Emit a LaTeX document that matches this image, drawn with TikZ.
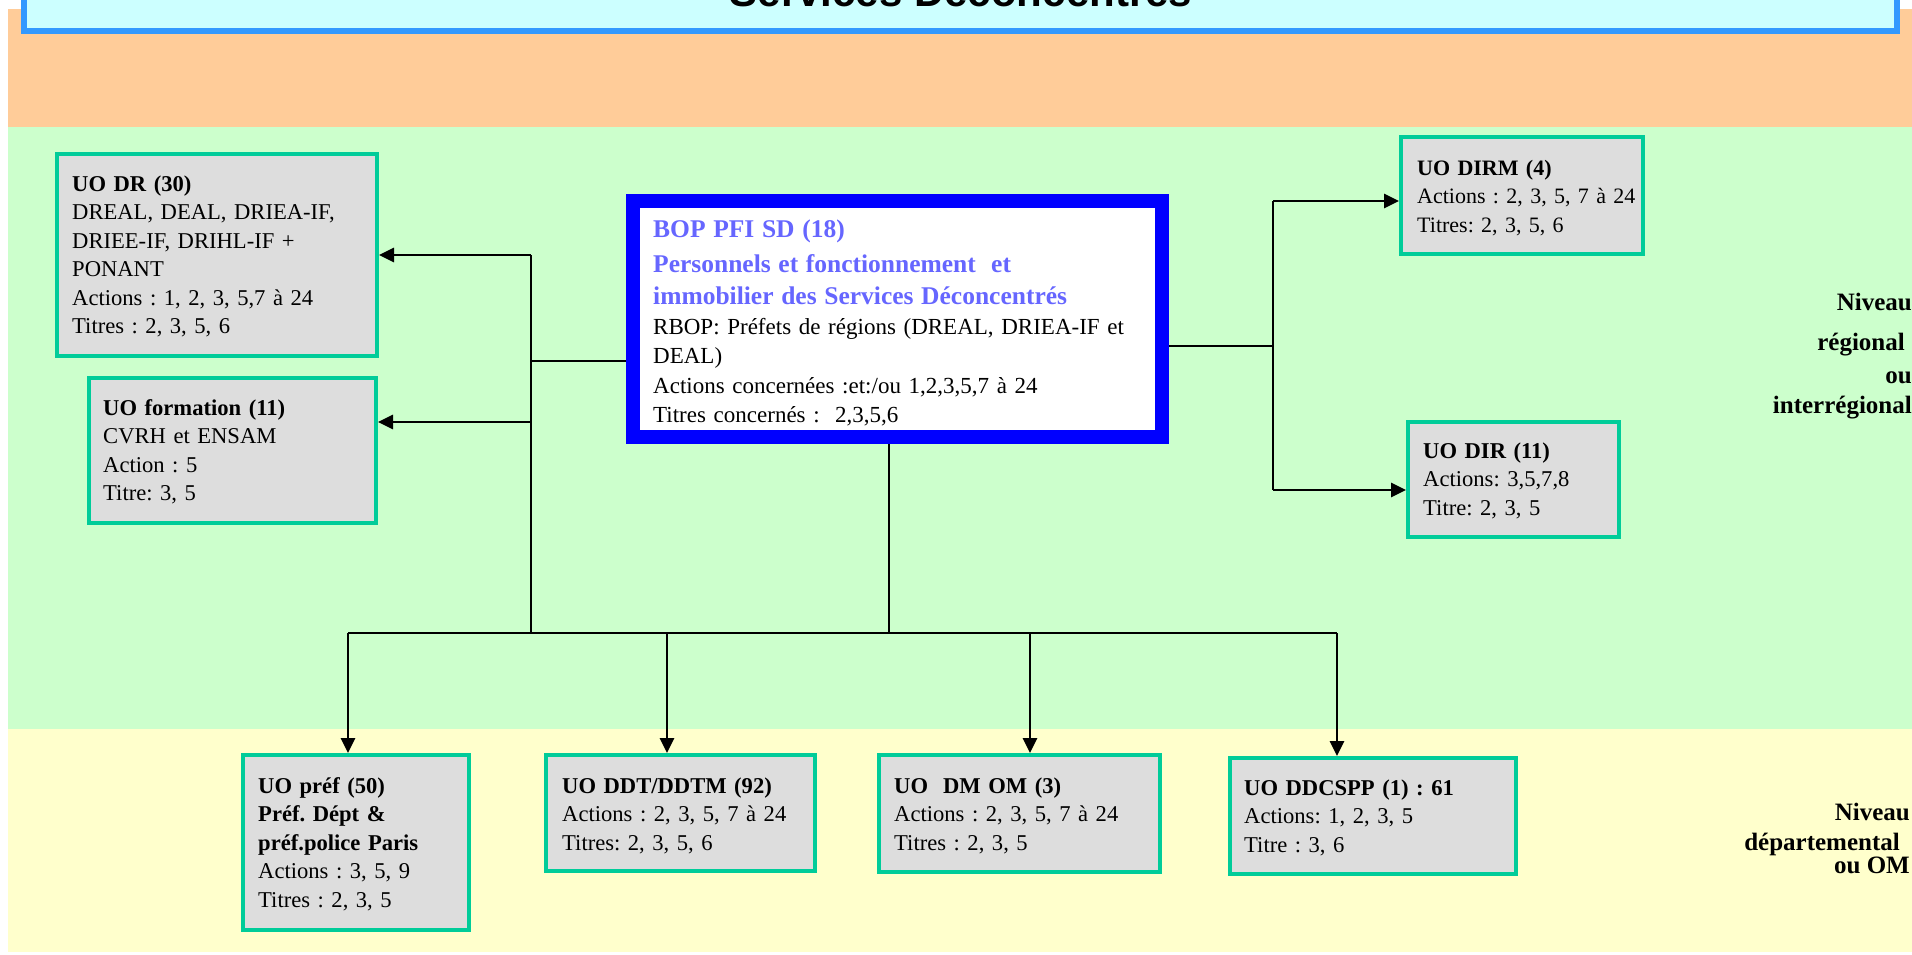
\documentclass[tikz,border=0pt]{standalone}
\usepackage{fontspec}
\setmainfont{Liberation Serif}
\newfontfamily\titlefont{Liberation Sans}
\usetikzlibrary{arrows.meta}
\definecolor{bandorange}{HTML}{FFCC99}
\definecolor{bandgreen}{HTML}{CCFFCC}
\definecolor{bandyellow}{HTML}{FFFFCC}
\definecolor{titlefill}{HTML}{CCFFFF}
\definecolor{titleblue}{HTML}{3399FF}
\definecolor{uoline}{HTML}{00CC99}
\definecolor{uofill}{HTML}{DDDDDD}
\definecolor{bopblue}{HTML}{0000FF}
\definecolor{boptext}{HTML}{6666FF}
\frenchspacing
\begin{document}
\begin{tikzpicture}[x=1pt,y=-1pt,
  uobox/.style={draw=uoline, line width=4pt, fill=uofill, inner sep=0pt, rectangle},
  txt/.style={anchor=base west, inner sep=0pt, text width=520pt, align=left, font=\fontsize{22.6}{28.5}\selectfont},
  lvl/.style={anchor=base east, inner sep=0pt, font=\fontsize{25}{30}\selectfont\bfseries},
  conn/.style={line width=2.8pt, black},
  arr/.style={conn, -{Triangle[length=15pt,width=14pt]}},
]
\useasboundingbox (0,0) rectangle (1912,954);
\clip (0,0) rectangle (1912,954);
% bands
\fill[bandorange] (8,9) rectangle (1912,127);
\fill[bandgreen] (8,127) rectangle (1912,729);
\fill[bandyellow] (8,729) rectangle (1912,952);
% title
\node[draw=titleblue, line width=6pt, fill=titlefill, minimum width=1873pt, minimum height=81pt, inner sep=0pt] (titlebox) at (960.5,-9.5) {};
\node[anchor=base, inner sep=0pt, font=\titlefont\bfseries\fontsize{42}{48}\selectfont] (title) at (961,6) {Services Déconcentrés};
% boxes
\node[draw=bopblue, line width=14pt, fill=white, minimum width=529pt, minimum height=236pt, inner sep=0pt] (bop) at (897.5,319) {};
\node[uobox, minimum width=320pt, minimum height=202pt] (dr) at (217,255) {};
\node[uobox, minimum width=287pt, minimum height=145pt] (form) at (232.5,450.5) {};
\node[uobox, minimum width=242pt, minimum height=117pt] (dirm) at (1522,195.5) {};
\node[uobox, minimum width=211pt, minimum height=115pt] (dir) at (1513.5,479.5) {};
\node[uobox, minimum width=226pt, minimum height=175pt] (pref) at (356,842.5) {};
\node[uobox, minimum width=269pt, minimum height=116pt] (ddt) at (680.5,813) {};
\node[uobox, minimum width=281pt, minimum height=117pt] (dmom) at (1019.5,813.5) {};
\node[uobox, minimum width=286pt, minimum height=116pt] (ddcspp) at (1373,816) {};
% texts
\node[txt, font=\fontsize{23}{29.5}\selectfont] (boptxt) at (653,237) {{\color{boptext}\bfseries\fontsize{25.5}{32}\selectfont BOP PFI SD (18)\\[3pt] Personnels et fonctionnement\ \ et\\[3pt] immobilier des Services Déconcentrés}\\ RBOP: Préfets de régions (DREAL, DRIEA-IF et\\ DEAL)\\ Actions concernées :et:/ou 1,2,3,5,7 à 24\\ Titres concernés :\ \ 2,3,5,6};
\node[txt] (drtxt) at (72,191) {\textbf{UO DR (30)}\\ DREAL, DEAL, DRIEA-IF,\\ DRIEE-IF, DRIHL-IF +\\ PONANT\\ Actions : 1, 2, 3, 5,7 à 24\\ Titres : 2, 3, 5, 6};
\node[txt] (formtxt) at (103,415) {\textbf{UO formation (11)}\\ CVRH et ENSAM\\ Action : 5\\ Titre: 3, 5};
\node[txt, font=\fontsize{22}{28.5}\selectfont] (dirmtxt) at (1417,175) {\textbf{UO DIRM (4)}\\ Actions : 2, 3, 5, 7 à 24\\ Titres: 2, 3, 5, 6};
\node[txt] (dirtxt) at (1423,458) {\textbf{UO DIR (11)}\\ Actions: 3,5,7,8\\ Titre: 2, 3, 5};
\node[txt] (preftxt) at (258,793) {\textbf{UO préf (50)}\\ \textbf{Préf. Dépt \&}\\ \textbf{préf.police Paris}\\ Actions : 3, 5, 9\\ Titres : 2, 3, 5};
\node[txt] (ddttxt) at (562,793) {\textbf{UO DDT/DDTM (92)}\\ Actions : 2, 3, 5, 7 à 24\\ Titres: 2, 3, 5, 6};
\node[txt] (dmomtxt) at (894,793) {\textbf{UO\ \ DM OM (3)}\\ Actions : 2, 3, 5, 7 à 24\\ Titres : 2, 3, 5};
\node[txt] (ddcspptxt) at (1244,795) {\textbf{UO DDCSPP (1) : 61}\\ Actions: 1, 2, 3, 5\\ Titre : 3, 6};
% level labels
\node[lvl] (niv1) at (1912,310) {Niveau};
\node[lvl] (niv2) at (1905,350) {régional};
\node[lvl] (niv3) at (1912,383) {ou};
\node[lvl] (niv4) at (1912,413) {interrégional};
\node[lvl] (nivd1) at (1910,820) {Niveau};
\node[lvl] (nivd2) at (1900,850) {départemental};
\node[lvl] (nivd3) at (1910,873) {ou OM};
% connectors left
\coordinate (jl) at (531,361);
\coordinate (ltop) at (531,255);
\coordinate (lform) at (531,422);
\coordinate (lbot) at (531,633);
\draw[conn] (bop.west |- jl) -- (jl);
\draw[conn] (ltop) -- (lbot);
\draw[arr] (ltop) -- (dr.east |- ltop);
\draw[arr] (lform) -- (form.east |- lform);
% connectors right
\coordinate (rj) at (1273,346);
\coordinate (rtop) at (1273,201);
\coordinate (rbot) at (1273,490);
\draw[conn] (bop.east |- rj) -- (rj);
\draw[conn] (rtop) -- (rbot);
\draw[arr] (rtop) -- (dirm.west |- rtop);
\draw[arr] (rbot) -- (dir.west |- rbot);
% connectors bottom
\coordinate (bj) at (889,633);
\coordinate (b1) at (348,633);
\coordinate (b2) at (667,633);
\coordinate (b3) at (1030,633);
\coordinate (b4) at (1337,633);
\draw[conn] (bop.south -| bj) -- (bj);
\draw[conn] (b1) -- (b4);
\draw[arr] (b1) -- (b1 |- pref.north);
\draw[arr] (b2) -- (b2 |- ddt.north);
\draw[arr] (b3) -- (b3 |- dmom.north);
\draw[arr] (b4) -- (b4 |- ddcspp.north);
\end{tikzpicture}
\end{document}
